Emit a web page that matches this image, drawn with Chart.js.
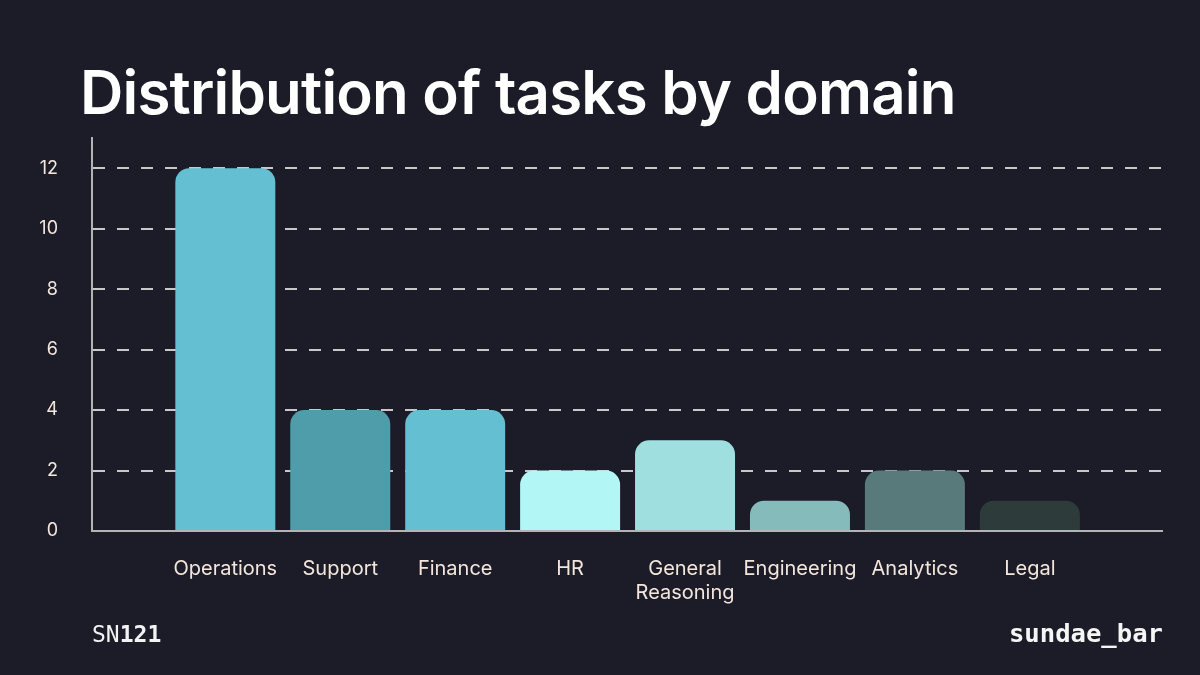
<!DOCTYPE html>
<html>
<head>
<meta charset="utf-8">
<script src="https://cdn.jsdelivr.net/npm/chart.js@4.4.1/dist/chart.umd.min.js"></script>
<style>
  html, body { margin: 0; padding: 0; background: #1c1c28; }
  body { width: 1200px; height: 675px; position: relative; overflow: hidden; font-family: Inter, "Noto Sans", sans-serif; }
  #title { position: absolute; left: 80px; top: 56px; margin: 0; font-family: Inter, sans-serif; font-weight: 600; font-size: 60px; line-height: 72px; color: #ffffff; letter-spacing: -0.8px; white-space: nowrap; }
  #wrap { position: absolute; left: 0; top: 0; width: 1200px; height: 675px; }
  #sn { position: absolute; left: 92px; top: 621px; font-family: "DejaVu Sans Mono", monospace; font-size: 23px; color: #f2f2f2; }
  #sn b { font-weight: 700; }
  #brand { position: absolute; right: 37px; top: 618px; font-family: "DejaVu Sans Mono", monospace; font-weight: 700; font-size: 25.6px; color: #f5f5f5; }
</style>
</head>
<body>
<div id="wrap"><canvas id="c" width="1200" height="675"></canvas></div>
<h1 id="title">Distribution of tasks by domain</h1>
<div id="sn">SN<b>121</b></div>
<div id="brand">sundae_bar</div>
<script>
const categories = ["Operations", "Support", "Finance", "HR", ["General", "Reasoning"], "Engineering", "Analytics", "Legal"];
const taskCounts = [12, 4, 4, 2, 3, 1, 2, 1];
const barColors = ["#64bfd3", "#4f9dab", "#64bfd3", "#b3f6f6", "#a0dfdf", "#86bbbb", "#587a7b", "#2d3b3a"];
const yTickValues = [0, 2, 4, 6, 8, 10, 12];

const points = taskCounts.map((v, i) => ({ x: i + 1, y: v }));

new Chart(document.getElementById('c'), {
  type: 'bar',
  data: {
    datasets: [{
      data: points,
      backgroundColor: barColors,
      borderWidth: 0,
      borderRadius: { topLeft: 14, topRight: 14, bottomLeft: 0, bottomRight: 0 },
      borderSkipped: 'bottom',
      categoryPercentage: 1,
      barPercentage: 0.87
    }]
  },
  options: {
    responsive: false,
    animation: false,
    devicePixelRatio: 1,
    layout: { padding: { left: 0, top: 138, right: 38, bottom: 0 } },
    plugins: { legend: { display: false }, tooltip: { enabled: false } },
    scales: {
      x: {
        type: 'linear',
        offset: false,
        bounds: 'data',
        min: -0.16,
        max: 9.15,
        grid: { display: false, drawTicks: false },
        border: { display: true, color: '#b4b4b4', width: 2 },
        afterBuildTicks: (s) => { s.ticks = categories.map((_, i) => ({ value: i + 1 })); },
        afterFit: (s) => { s.height = 675 - 531; s.paddingLeft = 0; s.paddingRight = 0; },
        ticks: {
          autoSkip: false,
          maxRotation: 0,
          padding: 26,
          color: '#f3e6dc',
          font: { family: 'Inter', size: 20 },
          callback: (v) => categories[v - 1]
        }
      },
      y: {
        min: 0,
        max: 13,
        afterBuildTicks: (s) => { s.ticks = yTickValues.map(v => ({ value: v })); },
        afterFit: (s) => { s.width = 92; },
        grid: {
          drawTicks: false,
          color: (ctx) => ctx.tick && ctx.tick.value === 0 ? 'rgba(0,0,0,0)' : '#c8c8c8',
          lineWidth: 2
        },
        border: { display: true, color: '#b4b4b4', width: 2, dash: [12, 12] },
        ticks: {
          padding: 34,
          color: '#f3e6dc',
          font: { family: 'Inter', size: 18 }
        }
      }
    }
  }
});
</script>
</body>
</html>
